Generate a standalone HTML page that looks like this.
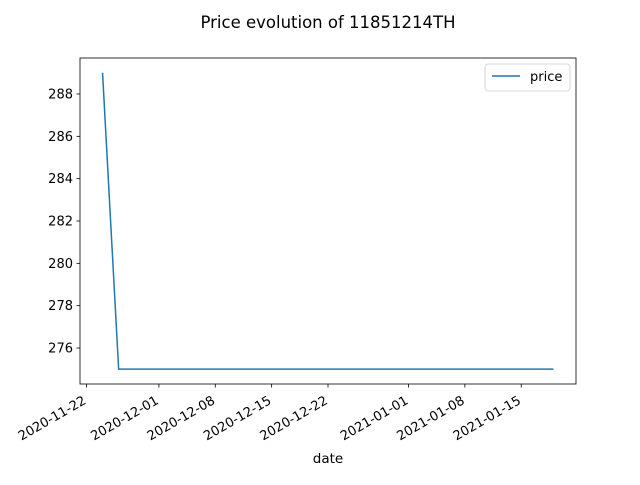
<!DOCTYPE html>
<html><head><meta charset="utf-8"><style>
body{margin:0;background:#fff;}
svg{font-family:"DejaVu Sans","Liberation Sans",sans-serif;}
</style></head><body>
<svg width="640" height="480" xmlns="http://www.w3.org/2000/svg">
<rect width="640" height="480" fill="#fff"/>
<text x="328" y="28" font-size="16.5" text-anchor="middle">Price evolution of 11851214TH</text>
<g id="axes"></g>
<text x="328" y="463" font-size="13.5" text-anchor="middle">date</text>
</svg>
<script>
const dates = ["2020-11-24","2020-11-26","2021-01-19"];
const prices = [289, 275, 275];
const yTicks = [276,278,280,282,284,286,288];
const xTickLabels = ["2020-11-22","2020-12-01","2020-12-08","2020-12-15","2020-12-22","2021-01-01","2021-01-08","2021-01-15"];

const L=80,R=576,T=58,B=384;
const day=d=>Date.parse(d+"T00:00:00Z")/86400000;
const xs=dates.map(day);
const xmin0=Math.min(...xs),xmax0=Math.max(...xs),xm=(xmax0-xmin0)*0.05;
const xmin=xmin0-xm,xmax=xmax0+xm;
const ymin0=Math.min(...prices),ymax0=Math.max(...prices),ym=(ymax0-ymin0)*0.05;
const ymin=ymin0-ym,ymax=ymax0+ym;
const X=d=>L+(d-xmin)/(xmax-xmin)*(R-L);
const Y=v=>B-(v-ymin)/(ymax-ymin)*(B-T);
const NS="http://www.w3.org/2000/svg";
const g=document.getElementById('axes');
function mk(t,a){const e=document.createElementNS(NS,t);for(const k in a)e.setAttribute(k,a[k]);g.appendChild(e);return e;}

const line=mk('polyline',{points:xs.map((d,i)=>X(d)+','+Y(prices[i])).join(' '),fill:'none',stroke:'#1f77b4','stroke-width':1.5});



yTicks.forEach(v=>{
  const y=Y(v);
  const t=mk('line',{x1:L-3.5,x2:L,y1:y,y2:y,stroke:'#000','stroke-width':0.8});
  
  
  const lb=mk('text',{x:L-7,y:y+4.5,'font-size':13,'text-anchor':'end'});
  lb.textContent=v;
  
  
});
xTickLabels.forEach(s=>{
  const x=X(day(s));
  const t=mk('line',{x1:x,x2:x,y1:B,y2:B+3.5,stroke:'#000','stroke-width':0.8});
  
  
  const lb=mk('text',{x:x,y:B+10,'font-size':13,'text-anchor':'end',transform:`rotate(-30 ${x} ${B+10}) translate(-4 8)`});
  lb.textContent=s;
  
  
});
const frame=mk('rect',{x:L,y:T,width:R-L,height:B-T,fill:'none',stroke:'#000','stroke-width':0.8});



const lg=mk('rect',{x:485,y:64,width:85,height:27,rx:3,fill:'#fff',stroke:'#ccc','stroke-width':0.8});


const ll=mk('line',{x1:492,x2:520,y1:76,y2:76,stroke:'#1f77b4','stroke-width':1.5});


const lt=mk('text',{x:530,y:81,'font-size':13});
lt.textContent='price';


</script>
</body></html>
